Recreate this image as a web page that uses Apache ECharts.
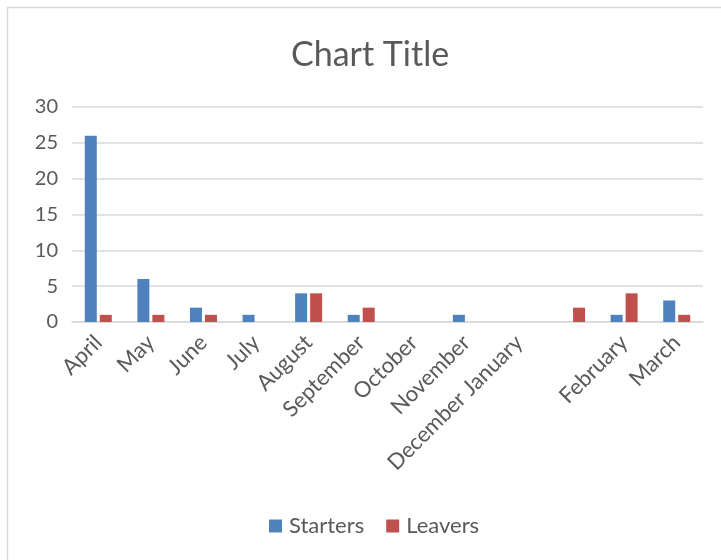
<!DOCTYPE html>
<html>
<head>
<meta charset="utf-8">
<script src="https://cdn.jsdelivr.net/npm/echarts@6/dist/echarts.min.js"></script>
<style>html,body{margin:0;padding:0;background:#fff;}#main{width:721px;height:560px;}</style>
</head>
<body>
<div id="main"></div>
<script>
var categories = ["April","May","June","July","August","September","October","November","December January","","February","March"];
var starters = [26,6,2,1,4,1,0,1,0,0,1,3];
var leavers = [1,1,1,0,4,2,0,0,0,2,4,1];
var yTicks = [0,5,10,15,20,25,30];

var chart = echarts.init(document.getElementById('main'));
var font = 'Lato, "Open Sans", sans-serif';
chart.setOption({
  animation: false,
  graphic: [{type:'rect', shape:{x:7.5,y:7.5,width:760,height:600}, style:{fill:'none', stroke:'#D9D9D9', lineWidth:1.5}, silent:true}],
  title: {text:'Chart Title', left:286, top:33, textStyle:{fontFamily:font, fontSize:34, fontWeight:'normal', color:'#595959'}},
  legend: {data:['Starters','Leavers'], bottom:18, left:264, itemWidth:13, itemHeight:13, itemGap:22, icon:'rect',
    textStyle:{fontFamily:font, fontSize:22, color:'#595959', padding:[0,0,0,2]}},
  grid: {left:72, right:18, top:107, bottom:238, containLabel:false},
  xAxis: {type:'category', data:categories,
    axisLine:{lineStyle:{color:'#D9D9D9', width:1.5}}, axisTick:{show:false},
    axisLabel:{rotate:45, interval:0, margin:17, fontFamily:font, fontSize:22, color:'#595959'}},
  yAxis: {type:'value', min:yTicks[0], max:yTicks[yTicks.length-1], interval:5,
    axisLine:{show:false}, axisTick:{show:false},
    splitLine:{lineStyle:{color:'#D9D9D9', width:1.5}},
    axisLabel:{margin:14, fontFamily:font, fontSize:20, color:'#595959'}},
  series: [
    {name:'Starters', type:'bar', data:starters, barWidth:12, barGap:'25%', itemStyle:{color:'#4F81BD'}},
    {name:'Leavers', type:'bar', data:leavers, barWidth:12, barGap:'25%', itemStyle:{color:'#C0504D'}}
  ]
});
</script>
</body>
</html>
